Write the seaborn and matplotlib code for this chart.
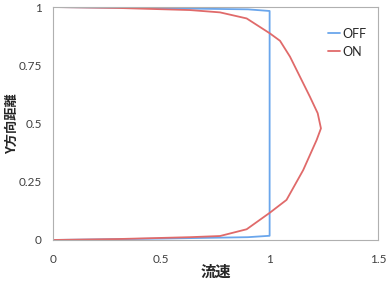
import matplotlib
matplotlib.use("Agg")
import matplotlib.pyplot as plt
import seaborn as sns
import pandas as pd

off_x = [0.0, 0.5, 0.9, 1.0, 1.0, 0.9, 0.5, 0.0]
off_y = [0.0, 0.006, 0.012, 0.018, 0.983, 0.99, 0.995, 1.0]

on_x = [0.0, 0.30, 0.632, 0.771, 0.894, 1.001, 1.078, 1.155, 1.217, 1.237,
        1.222, 1.186, 1.140, 1.094, 1.048, 1.001, 0.894, 0.771, 0.632, 0.30, 0.0]
on_y = [0.0, 0.004, 0.012, 0.017, 0.046, 0.117, 0.172, 0.300, 0.429, 0.479,
        0.544, 0.615, 0.701, 0.787, 0.855, 0.887, 0.951, 0.977, 0.987, 0.996, 1.0]

x_ticks = [0, 0.5, 1, 1.5]
x_labels = ["0", "0.5", "1", "1.5"]
y_ticks = [0, 0.25, 0.5, 0.75, 1]
y_labels = ["0", "0.25", "0.5", "0.75", "1"]

df = pd.concat([
    pd.DataFrame({"x": off_x, "y": off_y, "s": "OFF", "o": range(len(off_x))}),
    pd.DataFrame({"x": on_x, "y": on_y, "s": "ON", "o": range(len(on_x))}),
], ignore_index=True)

sns.set_style("white")
plt.rcParams['font.family'] = ['Noto Sans CJK JP', 'DejaVu Sans']

fig = plt.figure(figsize=(3.9, 2.81), dpi=100)
ax = fig.add_axes([0.136, 0.146, 0.833, 0.829])
sns.lineplot(data=df, x="x", y="y", hue="s", sort=False, estimator=None,
             palette={"OFF": "#6aa6ec", "ON": "#e06a6a"}, linewidth=1.3, ax=ax)

ax.set_xlim(0, 1.5)
ax.set_ylim(0, 1)
ax.set_xticks(x_ticks)
ax.set_xticklabels(x_labels, family='Lato', fontsize=8.5, color='#404040')
ax.set_yticks(y_ticks)
ax.set_yticklabels(y_labels, family='Lato', fontsize=8.5, color='#404040')
ax.tick_params(axis='x', length=3, width=0.6, colors='#999999', direction='out', pad=7)
ax.tick_params(axis='y', length=3, width=0.6, colors='#999999', direction='out', pad=5)
for lab in ax.get_xticklabels() + ax.get_yticklabels():
    lab.set_color('#404040')
for sp in ax.spines.values():
    sp.set_color('#b0b0b0')
    sp.set_linewidth(0.8)

ax.set_xlabel("流速", fontsize=11, fontweight='bold', va='center')
ax.set_ylabel("Y方向距離", fontsize=9.5, fontweight='bold', va='center')
ax.xaxis.set_label_coords(0.5, -0.135)
ax.yaxis.set_label_coords(-0.126, 0.5)

leg = ax.legend(loc='upper right', bbox_to_anchor=(1.0, 0.96), frameon=False,
                fontsize=9, handlelength=1.0, handletextpad=0.2, labelspacing=0.5)
for t in leg.get_texts():
    t.set_family('Lato')
fig.savefig("out.png", dpi=100)
